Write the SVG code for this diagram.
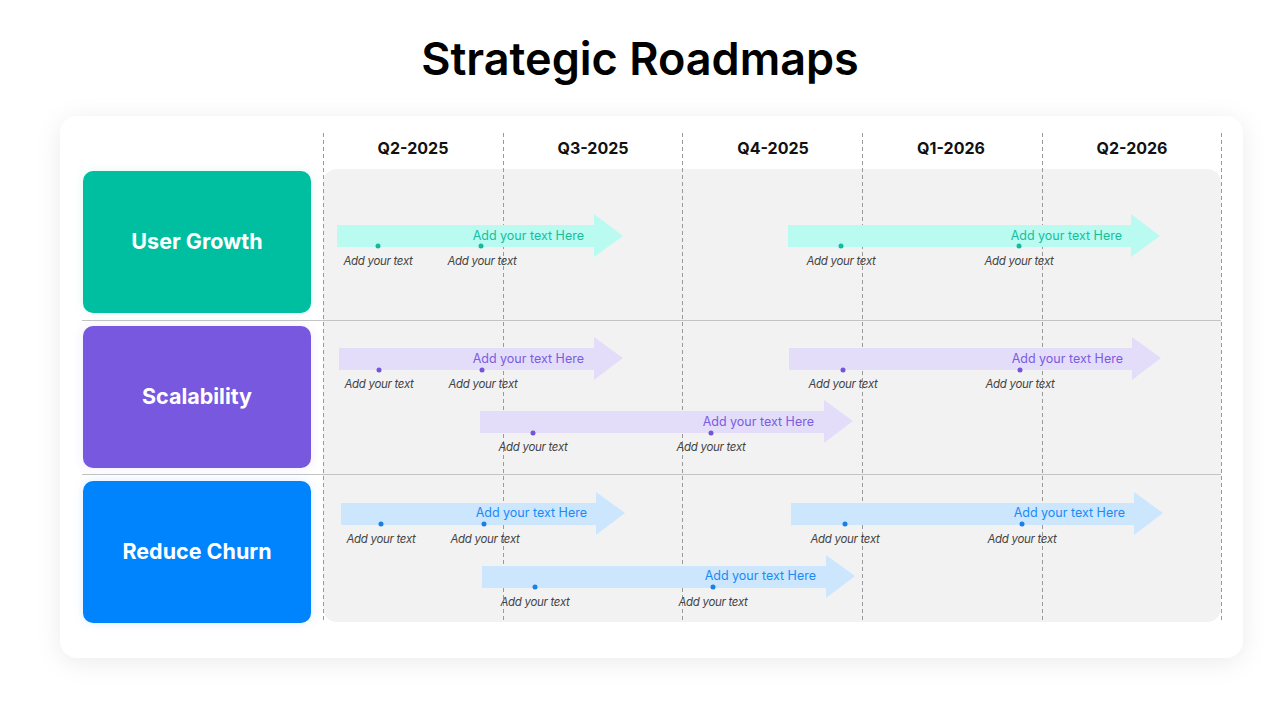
<svg xmlns="http://www.w3.org/2000/svg" width="1280" height="720" viewBox="0 0 1280 720">
<style>
.title{font-family:Inter,"Noto Sans",sans-serif;font-weight:600;font-size:45px;fill:#000}
.q{font-family:Inter,"Noto Sans",sans-serif;font-weight:700;font-size:16px;fill:#111;text-anchor:middle}
.lab{font-family:Inter,"Noto Sans",sans-serif;font-weight:700;font-size:21.5px;fill:#fff;text-anchor:middle}
.sm{font-family:Inter,"Noto Sans",sans-serif;font-style:italic;font-size:11.5px;fill:#444;text-anchor:middle;letter-spacing:-0.3px}
.hd{font-family:Inter,"Noto Sans",sans-serif;font-size:12.5px;text-anchor:end}
.grid{stroke:#9a9a9a;stroke-width:1;stroke-dasharray:4 3}
.sep{stroke:#c4c4c4;stroke-width:1}
.g .a{fill:#B9FBF0}.g .d{fill:#17B99A}.g .hd{fill:#17BE9E}
.p .a{fill:#E3DDFA}.p .d{fill:#7356D8}.p .hd{fill:#7B5CE0}
.b .a{fill:#CCE6FE}.b .d{fill:#1A7FE8}.b .hd{fill:#1A8BF5}
</style>
<defs>
<filter id="card" x="-10%" y="-10%" width="120%" height="125%">
<feDropShadow dx="0" dy="4" stdDeviation="12" flood-color="#000" flood-opacity="0.08"/>
</filter>
<filter id="glowG" x="-20%" y="-20%" width="140%" height="140%"><feDropShadow dx="0" dy="0" stdDeviation="5" flood-color="#00BFA0" flood-opacity="0.12"/></filter>
<filter id="glowP" x="-20%" y="-20%" width="140%" height="140%"><feDropShadow dx="0" dy="0" stdDeviation="5" flood-color="#7758DE" flood-opacity="0.12"/></filter>
<filter id="glowB" x="-20%" y="-20%" width="140%" height="140%"><feDropShadow dx="0" dy="0" stdDeviation="5" flood-color="#0284FE" flood-opacity="0.14"/></filter>
</defs>
<rect width="1280" height="720" fill="#fff"/>
<text class="title" x="640" y="75" text-anchor="middle">Strategic Roadmaps</text>
<rect x="60" y="116" width="1183" height="542" rx="18" fill="#fff" filter="url(#card)"/>
<rect id="panel" x="323" y="169" width="898" height="453" rx="14" fill="#f2f2f2"/>
<g id="separators">
<line class="sep" x1="82" y1="320.5" x2="1221" y2="320.5"/>
<line class="sep" x1="82" y1="474.5" x2="1221" y2="474.5"/>
</g>
<g id="gridlines">
<line class="grid" x1="323.5" y1="133" x2="323.5" y2="622"/>
<line class="grid" x1="503.5" y1="133" x2="503.5" y2="622"/>
<line class="grid" x1="682.5" y1="133" x2="682.5" y2="622"/>
<line class="grid" x1="862.5" y1="133" x2="862.5" y2="622"/>
<line class="grid" x1="1042.5" y1="133" x2="1042.5" y2="622"/>
<line class="grid" x1="1221.5" y1="133" x2="1221.5" y2="622"/>
</g>
<g id="quarters">
<text class="q" x="413" y="154">Q2-2025</text>
<text class="q" x="593" y="154">Q3-2025</text>
<text class="q" x="773" y="154">Q4-2025</text>
<text class="q" x="951" y="154">Q1-2026</text>
<text class="q" x="1132" y="154">Q2-2026</text>
</g>
<g id="node-user-growth">
<rect x="83" y="171" width="228" height="142" rx="10" fill="#00BFA0" filter="url(#glowG)"/>
<text class="lab" x="197" y="249">User Growth</text>
</g>
<g id="node-scalability">
<rect x="83" y="326" width="228" height="142" rx="10" fill="#7758DE" filter="url(#glowP)"/>
<text class="lab" x="197" y="404">Scalability</text>
</g>
<g id="node-reduce-churn">
<rect x="83" y="481" width="228" height="142" rx="10" fill="#0284FE" filter="url(#glowB)"/>
<text class="lab" x="197" y="559">Reduce Churn</text>
</g>
<g id="connectors">
<g class="g" id="arrow-ug-1">
<polygon class="a" points="337,225 594,225 594,214 623,236 594,257 594,247 337,247"/>
<circle class="d" cx="378" cy="246" r="2.5"/><circle class="d" cx="481" cy="246" r="2.5"/>
<text class="hd" x="584" y="240">Add your text Here</text>
<text class="sm" x="378" y="265">Add your text</text><text class="sm" x="482" y="265">Add your text</text>
</g>
<g class="g" id="arrow-ug-2">
<polygon class="a" points="788,225 1131,225 1131,214 1160,236 1131,257 1131,247 788,247"/>
<circle class="d" cx="841" cy="246" r="2.5"/><circle class="d" cx="1019" cy="246" r="2.5"/>
<text class="hd" x="1122" y="240">Add your text Here</text>
<text class="sm" x="841" y="265">Add your text</text><text class="sm" x="1019" y="265">Add your text</text>
</g>
<g class="p" id="arrow-sc-1">
<polygon class="a" points="339,348 594,348 594,337 623,358 594,380 594,370 339,370"/>
<circle class="d" cx="379" cy="370" r="2.5"/><circle class="d" cx="482" cy="370" r="2.5"/>
<text class="hd" x="584" y="363">Add your text Here</text>
<text class="sm" x="379" y="388">Add your text</text><text class="sm" x="483" y="388">Add your text</text>
</g>
<g class="p" id="arrow-sc-2">
<polygon class="a" points="789,348 1132,348 1132,337 1161,358 1132,380 1132,370 789,370"/>
<circle class="d" cx="843" cy="370" r="2.5"/><circle class="d" cx="1020" cy="370" r="2.5"/>
<text class="hd" x="1123" y="363">Add your text Here</text>
<text class="sm" x="843" y="388">Add your text</text><text class="sm" x="1020" y="388">Add your text</text>
</g>
<g class="p" id="arrow-sc-3">
<polygon class="a" points="480,411 824,411 824,400 853,421 824,443 824,433 480,433"/>
<circle class="d" cx="533" cy="433" r="2.5"/><circle class="d" cx="711" cy="433" r="2.5"/>
<text class="hd" x="814" y="426">Add your text Here</text>
<text class="sm" x="533" y="451">Add your text</text><text class="sm" x="711" y="451">Add your text</text>
</g>
<g class="b" id="arrow-rc-1">
<polygon class="a" points="341,503 596,503 596,492 625,513 596,535 596,525 341,525"/>
<circle class="d" cx="381" cy="524" r="2.5"/><circle class="d" cx="484" cy="524" r="2.5"/>
<text class="hd" x="587" y="517">Add your text Here</text>
<text class="sm" x="381" y="543">Add your text</text><text class="sm" x="485" y="543">Add your text</text>
</g>
<g class="b" id="arrow-rc-2">
<polygon class="a" points="791,503 1134,503 1134,492 1163,513 1134,535 1134,525 791,525"/>
<circle class="d" cx="845" cy="524" r="2.5"/><circle class="d" cx="1022" cy="524" r="2.5"/>
<text class="hd" x="1125" y="517">Add your text Here</text>
<text class="sm" x="845" y="543">Add your text</text><text class="sm" x="1022" y="543">Add your text</text>
</g>
<g class="b" id="arrow-rc-3">
<polygon class="a" points="482,566 826,566 826,555 855,576 826,598 826,588 482,588"/>
<circle class="d" cx="535" cy="587" r="2.5"/><circle class="d" cx="713" cy="587" r="2.5"/>
<text class="hd" x="816" y="580">Add your text Here</text>
<text class="sm" x="535" y="606">Add your text</text><text class="sm" x="713" y="606">Add your text</text>
</g>
</g>
</svg>
